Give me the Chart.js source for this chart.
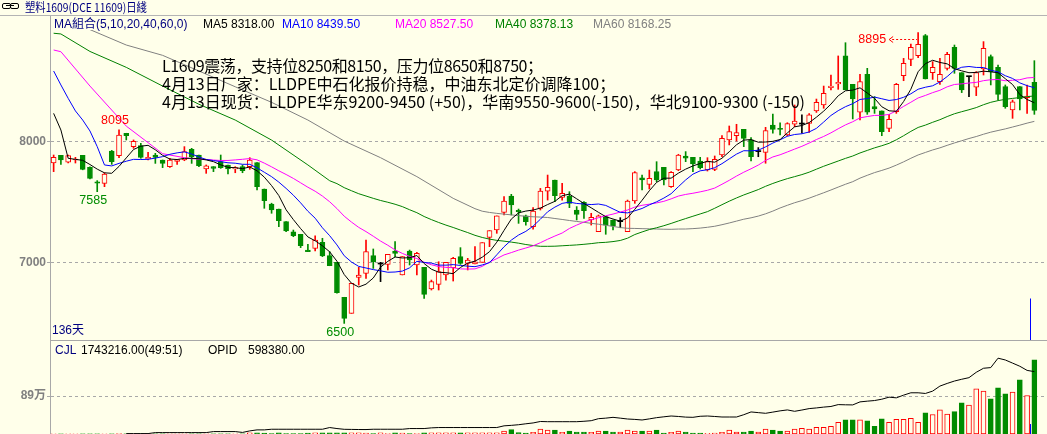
<!DOCTYPE html>
<html>
<head>
<meta charset="utf-8">
<script src="https://cdn.jsdelivr.net/npm/chart.js@4.4.0/dist/chart.umd.min.js"></script>
<style>
  body { margin:0; background:#FFFFEA; width:1047px; height:434px; overflow:hidden; position:relative; }
  canvas { position:absolute; left:0; }
  #main { top:0; }
  #vol { top:341px; }
  .txt { position:absolute; white-space:nowrap; font-family:"Liberation Sans","Noto Sans CJK SC",sans-serif; font-size:12px; line-height:14px; }
  .note { position:absolute; left:162px; white-space:nowrap; font-family:"Noto Sans CJK SC",sans-serif; font-size:16px; line-height:18px; color:#000; }
  .link { position:absolute; top:3px; width:7px; height:4px; border:1px solid #000; border-radius:2px; }
</style>
</head>
<body>
<canvas id="main" width="1047" height="341"></canvas>
<canvas id="vol" width="1047" height="93"></canvas>
<div style="position:absolute;left:0;top:15px;width:1047px;height:1px;background:#B4B4B4"></div>
<div style="position:absolute;left:51px;top:16px;width:996px;height:14px;background:#FFFFEA"></div>
<div style="position:absolute;left:50px;top:340px;width:997px;height:1px;background:#A8A8A8"></div>

<div class="link" style="left:2px"></div>
<div class="link" style="left:10px"></div>
<div style="position:absolute;left:6px;top:5px;width:8px;height:1px;background:#000"></div>
<div class="txt" style="left:25px;top:0;color:#000080;font-family:'Noto Sans CJK SC',sans-serif;transform:scaleX(0.86);transform-origin:left">塑料1609(DCE 11609)日綫</div>

<div class="txt" style="left:54px;top:17px;color:#000080">MA組合(5,10,20,40,60,0)</div>
<div class="txt" style="left:203px;top:17px;color:#000000">MA5 8318.00</div>
<div class="txt" style="left:282px;top:17px;color:#0000FF">MA10 8439.50</div>
<div class="txt" style="left:395px;top:17px;color:#FF00FF">MA20 8527.50</div>
<div class="txt" style="left:495px;top:17px;color:#008000">MA40 8378.13</div>
<div class="txt" style="left:593px;top:17px;color:#808080">MA60 8168.25</div>

<div class="note" style="top:56px;letter-spacing:-0.4px">L1609震荡，支持位8250和8150，压力位8650和8750；</div>
<div class="note" style="top:74px">4月13日厂家：LLDPE中石化报价持稳，中油东北定价调降100；</div>
<div class="note" style="top:92px">4月13日现货：LLDPE华东9200-9450 (+50)，华南9550-9600(-150)，华北9100-9300 (-150)</div>

<div class="txt" style="left:52px;top:323px;color:#000080">136天</div>

<div class="txt" style="left:55px;top:343px;color:#000080">CJL</div>
<div class="txt" style="left:81px;top:343px;color:#000">1743216.00(49:51)</div>
<div class="txt" style="left:208px;top:343px;color:#000">OPID</div>
<div class="txt" style="left:248px;top:343px;color:#000">598380.00</div>

<script>
// daily candles, oldest first
const opens = [7821,7884,7827,7846,7884,7785,7667,7654,7920,7882,
8066,7956,7964,7854,7887,7846,7791,7835,7846,7934,
7887,7772,7791,7832,7805,7772,7791,7791,7824,7607,
7483,7442,7338,7255,7234,7104,7118,7168,7058,7003,
6715,6583,6879,6912,7058,6989,6986,7096,6899,7096,
6981,6962,6783,6822,6899,6959,7050,6995,6989,7003,
7209,7269,7415,7549,7431,7385,7297,7448,7590,7681,
7538,7549,7434,7497,7352,7256,7379,7352,7338,7256,
7508,7700,7645,7750,7785,7626,7764,7879,7868,7838,
7764,7769,7887,8011,8046,8098,8011,7915,7909,8134,
8107,8052,8142,8142,8148,8250,8299,8442,8472,8703,
8469,8239,8552,8285,8250,8107,8244,8541,8675,8705,
8870,8565,8491,8601,8774,8565,8532,8445,8596,8697,
8609,8450,8258,8450,8360,8486];

const highs = [7887,7884,7887,7868,7884,7790,7676,7741,7925,8095,
8066,8011,7983,7909,7901,7846,7860,7849,7956,7942,
7887,7805,7791,7887,7805,7791,7805,7865,7824,7607,
7490,7442,7338,7269,7234,7151,7222,7201,7091,7003,
6715,6830,6962,7187,7113,7003,7069,7173,7050,7104,
7085,6962,6857,7008,7003,7044,7124,7036,7132,7165,
7264,7385,7544,7563,7442,7393,7453,7612,7722,7681,
7654,7585,7462,7503,7407,7393,7379,7352,7371,7516,
7750,7722,7763,7832,7785,7750,7893,7915,7868,7868,
7865,7879,8046,8126,8140,8098,8030,7948,8115,8225,
8153,8153,8299,8217,8228,8348,8455,8546,8703,8812,
8469,8552,8601,8368,8250,8222,8477,8683,8801,8895,
8880,8656,8683,8733,8793,8565,8532,8574,8821,8711,
8628,8464,8340,8450,8464,8664];

const lows = [7750,7810,7821,7821,7765,7690,7585,7626,7810,7865,
8011,7942,7860,7846,7818,7783,7785,7810,7840,7818,
7791,7736,7750,7777,7731,7741,7741,7769,7599,7448,
7407,7297,7255,7214,7124,7091,7096,7050,6975,6750,
6500,6583,6816,6871,6953,6844,6940,7050,6899,6981,
6899,6706,6775,6775,6857,6849,6986,6940,6989,7003,
7132,7242,7393,7393,7324,7310,7277,7434,7516,7503,
7516,7453,7352,7365,7310,7256,7234,7269,7288,7256,
7489,7599,7607,7667,7640,7621,7758,7832,7750,7772,
7755,7758,7873,7970,8002,7956,7838,7873,7819,8066,
8052,8044,8120,8066,8074,8238,8272,8423,8428,8423,
8184,8175,8222,8230,8046,8079,8230,8499,8623,8689,
8513,8510,8469,8587,8560,8401,8368,8376,8546,8464,
8340,8272,8189,8258,8230,8222];

const closes = [7868,7846,7882,7851,7769,7695,7656,7730,7832,8052,
8046,8000,7868,7868,7868,7818,7846,7849,7915,7873,
7799,7797,7777,7783,7772,7783,7758,7846,7626,7511,
7434,7346,7261,7223,7140,7091,7187,7055,6975,6753,
6542,6830,6899,7091,7008,6989,7069,7077,7050,7022,
7077,6739,6844,6926,7003,7036,6995,7022,7008,7165,
7264,7385,7508,7475,7420,7338,7426,7590,7621,7552,
7571,7489,7398,7428,7374,7385,7310,7302,7338,7508,
7742,7681,7695,7681,7681,7744,7887,7860,7813,7783,
7832,7851,8024,8079,8071,8024,7873,7915,8088,8098,
8098,8145,8167,8142,8217,8321,8395,8455,8486,8423,
8348,8491,8239,8266,8079,8181,8469,8642,8774,8799,
8513,8609,8552,8716,8601,8423,8532,8565,8766,8574,
8387,8285,8326,8350,8373,8255];

const volumes = [3000,2000,4000,3000,5000,4000,6000,3000,5000,7000,
4000,3000,4000,3000,5000,4000,3000,4000,6000,5000,
4000,3000,5000,4000,3000,6000,5000,28000,26000,20000,
9000,26000,9000,8000,10000,22000,26000,28000,26000,28000,
30000,28000,26000,24000,8000,26000,9000,26000,24000,9000,
10000,28000,26000,28000,26000,28000,26000,27000,26000,28000,
28000,30000,71000,103000,32000,24000,39000,118000,94000,94000,
39000,71000,47000,47000,39000,71000,71000,47000,47000,94000,
71000,71000,71000,94000,24000,39000,71000,47000,24000,24000,
16000,24000,39000,94000,47000,47000,71000,47000,118000,94000,
71000,71000,118000,134000,118000,157000,157000,181000,276000,331000,
331000,331000,307000,181000,354000,276000,346000,346000,370000,276000,
496000,457000,567000,465000,527000,732000,677000,1063000,1008000,827000,
1086000,945000,984000,1275000,905000,1743216];

// open interest (OPID), no value in the first days
const openInt = [null,null,null,null,null,null,null,null,null,null,
4000,4000,4000,4000,13400,13400,13400,13400,13400,13400,
13400,13400,23200,23200,23200,23200,15000,29700,39500,39500,
45700,45700,45700,45700,45700,45700,45700,45700,62000,52300,
45000,44000,43000,42600,45700,45700,45700,45700,45700,52300,
52300,52300,58800,62000,62000,62000,62000,62000,62000,62000,
62000,62000,78300,83000,89000,98000,106000,120000,118000,118000,
118000,118000,118000,122000,127600,147000,152000,159900,152000,143800,
140000,134300,145000,156700,165000,172600,168000,162000,160000,170000,
172600,168000,163000,163000,163000,185000,211500,205000,198500,210000,
222000,230800,217700,230000,243600,250000,258000,264000,282000,280000,
279000,308100,315000,321000,333700,353300,346900,372700,395200,395200,
388800,411300,459600,485000,508000,525000,540300,591800,630500,637000,
727200,710000,680000,649800,610000,598380];

// moving average values before enough history exists: [day, value]
const ma5Head = [[0,8230],[1,8093],[2,7860],[3,7851]];
const ma10Head = [[0,8579],[1,8464],[2,8354],[3,8250],[4,8175],[5,8085],[6,7956],[7,7805],[8,7797]];
const ma20Head = [[0,8752],[1,8738],[5,8455],[10,8125],[15,7898],[18,7865]];
const ma40Head = [[0,8890],[1,8884],[5,8740],[10,8609],[15,8455],[20,8305],[25,8175],[30,8010],[35,7805],[38,7675]];
const ma60Head = [[0,9065],[5,8920],[10,8793],[15,8708],[20,8579],[25,8449],[30,8321],[35,8175],[40,8002],[45,7865],[50,7709],[55,7530],[58,7445]];

const priceTicks = [7000, 8000];
const volTicks = [890000];
const markHigh = [9];
const markLow = [6, 40];
const cursorDay = 134.45;

const RED = '#FF0000', GREEN = '#008C00', BG = '#FFFFEA';
const priceTop = 9032, priceBottom = 6355;
const volTop = 2184000, oiTop = 892000;
const xMin = -0.5, xMax = 136.74;

const days = closes.map((_, i) => i);

function candleColor(i) {
  if (closes[i] > opens[i]) return RED;
  if (closes[i] < opens[i]) return GREEN;
  return '#000000';
}

function movingAvg(n, head) {
  let out = days.map(() => null);
  head.forEach(p => { out[p[0]] = p[1]; });
  for (let i = n - 1; i < closes.length; i++) {
    let s = 0;
    for (let j = i - n + 1; j <= i; j++) s += closes[j];
    out[i] = s / n;
  }
  return out.map((v, i) => ({x: i, y: v}));
}

const maList = [
  {n: 5, head: ma5Head, color: '#000000'},
  {n: 10, head: ma10Head, color: '#0000FF'},
  {n: 20, head: ma20Head, color: '#FF00FF'},
  {n: 40, head: ma40Head, color: '#008000'},
  {n: 60, head: ma60Head, color: '#808080'}
];

let maSets = maList.map(m => ({
  type: 'line',
  data: movingAvg(m.n, m.head),
  borderColor: m.color,
  borderWidth: 1,
  pointRadius: 0,
  spanGaps: true,
  order: 0
}));

const tickFont = {family: "'Liberation Sans','Noto Sans CJK SC'", size: 12, weight: 'bold'};

function leftAxis(s) {
  s.width = 50;
  s.paddingTop = 0;
  s.paddingBottom = 0;
}

const markPlugin = {
  id: 'marks',
  afterDatasetsDraw(chart) {
    const ctx = chart.ctx, xs = chart.scales.x, ys = chart.scales.y;
    ctx.save();
    ctx.font = '12.5px "Liberation Sans"';
    ctx.textBaseline = 'middle';
    ctx.textAlign = 'center';
    markHigh.forEach(i => {
      ctx.fillStyle = RED;
      ctx.fillText(highs[i], xs.getPixelForValue(i) - 4, ys.getPixelForValue(highs[i]) - 9);
    });
    markLow.forEach(i => {
      ctx.fillStyle = GREEN;
      ctx.fillText(lows[i], xs.getPixelForValue(i) - 4, ys.getPixelForValue(lows[i]) + 9);
    });
    // highest high gets a label on the left with an arrow
    const top = highs.indexOf(Math.max(...highs));
    const tx = xs.getPixelForValue(top), ty = ys.getPixelForValue(highs[top]) + 7;
    ctx.fillStyle = RED;
    ctx.textAlign = 'right';
    ctx.fillText(highs[top], tx - 32, ty);
    ctx.strokeStyle = RED;
    ctx.lineWidth = 1;
    const ay = Math.round(ty) - 0.5;
    ctx.setLineDash([2, 2]);
    ctx.beginPath(); ctx.moveTo(tx - 26, ay); ctx.lineTo(tx - 1, ay); ctx.stroke();
    ctx.setLineDash([]);
    ctx.beginPath(); ctx.moveTo(tx - 25, ay - 3); ctx.lineTo(tx - 29, ay); ctx.lineTo(tx - 25, ay + 3); ctx.stroke();
    // cursor line
    const mx = Math.round(xs.getPixelForValue(cursorDay)) + 0.5;
    ctx.strokeStyle = '#0000FF';
    ctx.beginPath(); ctx.moveTo(mx, ys.getPixelForValue(6705)); ctx.lineTo(mx, chart.chartArea.bottom); ctx.stroke();
    ctx.restore();
  }
};

const volCursor = {
  id: 'volCursor',
  afterDatasetsDraw(chart) {
    const ctx = chart.ctx, xs = chart.scales.x, ys = chart.scales.y;
    const mx = Math.round(xs.getPixelForValue(cursorDay)) + 0.5;
    ctx.save();
    ctx.strokeStyle = '#0000FF';
    ctx.beginPath(); ctx.moveTo(mx, ys.getPixelForValue(234000)); ctx.lineTo(mx, chart.chartArea.bottom); ctx.stroke();
    ctx.restore();
  }
};

new Chart(document.getElementById('main'), {
  type: 'bar',
  data: {
    datasets: [
      ...maSets,
      {
        type: 'bar',
        data: opens.map((o, i) => ({x: i, y: [o, closes[i]]})),
        backgroundColor: days.map(i => closes[i] < opens[i] ? GREEN : (closes[i] == opens[i] ? '#000000' : BG)),
        borderColor: days.map(candleColor),
        borderWidth: days.map(i => closes[i] == opens[i] ? 0 : 1),
        borderSkipped: false,
        barThickness: 5,
        minBarLength: 1,
        grouped: false,
        order: 1
      },
      {
        type: 'bar',
        data: lows.map((l, i) => ({x: i, y: [l, highs[i]]})),
        backgroundColor: days.map(candleColor),
        borderWidth: 0,
        barThickness: 1,
        grouped: false,
        order: 2
      }
    ]
  },
  options: {
    responsive: false,
    animation: false,
    layout: {padding: {top: 16, right: 0, bottom: 0, left: 0}},
    plugins: {legend: {display: false}, tooltip: {enabled: false}},
    scales: {
      x: {type: 'linear', min: xMin, max: xMax, offset: false, display: false},
      y: {
        min: priceBottom, max: priceTop,
        afterFit: leftAxis,
        afterBuildTicks: s => { s.ticks = priceTicks.map(v => ({value: v})); },
        ticks: {color: '#808080', font: tickFont, padding: 1, callback: v => String(v)},
        grid: {color: '#A8A8A8', tickLength: 3, tickColor: '#A8A8A8'},
        border: {color: '#A8A8A8', dash: [3, 3]}
      }
    }
  },
  plugins: [markPlugin]
});

new Chart(document.getElementById('vol'), {
  type: 'bar',
  data: {
    datasets: [
      {
        type: 'line',
        data: openInt.map((v, i) => ({x: i, y: v})),
        borderColor: '#000000',
        borderWidth: 1,
        pointRadius: 0,
        yAxisID: 'oi',
        order: 0
      },
      {
        type: 'bar',
        data: volumes.map((v, i) => ({x: i, y: v})),
        backgroundColor: days.map(i => closes[i] < opens[i] ? GREEN : BG),
        borderColor: days.map(i => closes[i] < opens[i] ? GREEN : RED),
        borderWidth: 1,
        borderSkipped: false,
        barThickness: 5,
        order: 1
      }
    ]
  },
  options: {
    responsive: false,
    animation: false,
    layout: {padding: 0},
    plugins: {legend: {display: false}, tooltip: {enabled: false}},
    scales: {
      x: {type: 'linear', min: xMin, max: xMax, offset: false, display: false},
      y: {
        min: 0, max: volTop,
        afterFit: leftAxis,
        afterBuildTicks: s => { s.ticks = volTicks.map(v => ({value: v})); },
        ticks: {color: '#808080', font: tickFont, padding: 1, callback: v => (v / 10000) + '万'},
        grid: {color: '#A8A8A8', tickLength: 3, tickColor: '#A8A8A8'},
        border: {color: '#A8A8A8', dash: [3, 3]}
      },
      oi: {min: 0, max: oiTop, display: false}
    }
  },
  plugins: [volCursor]
});
</script>
</body>
</html>
